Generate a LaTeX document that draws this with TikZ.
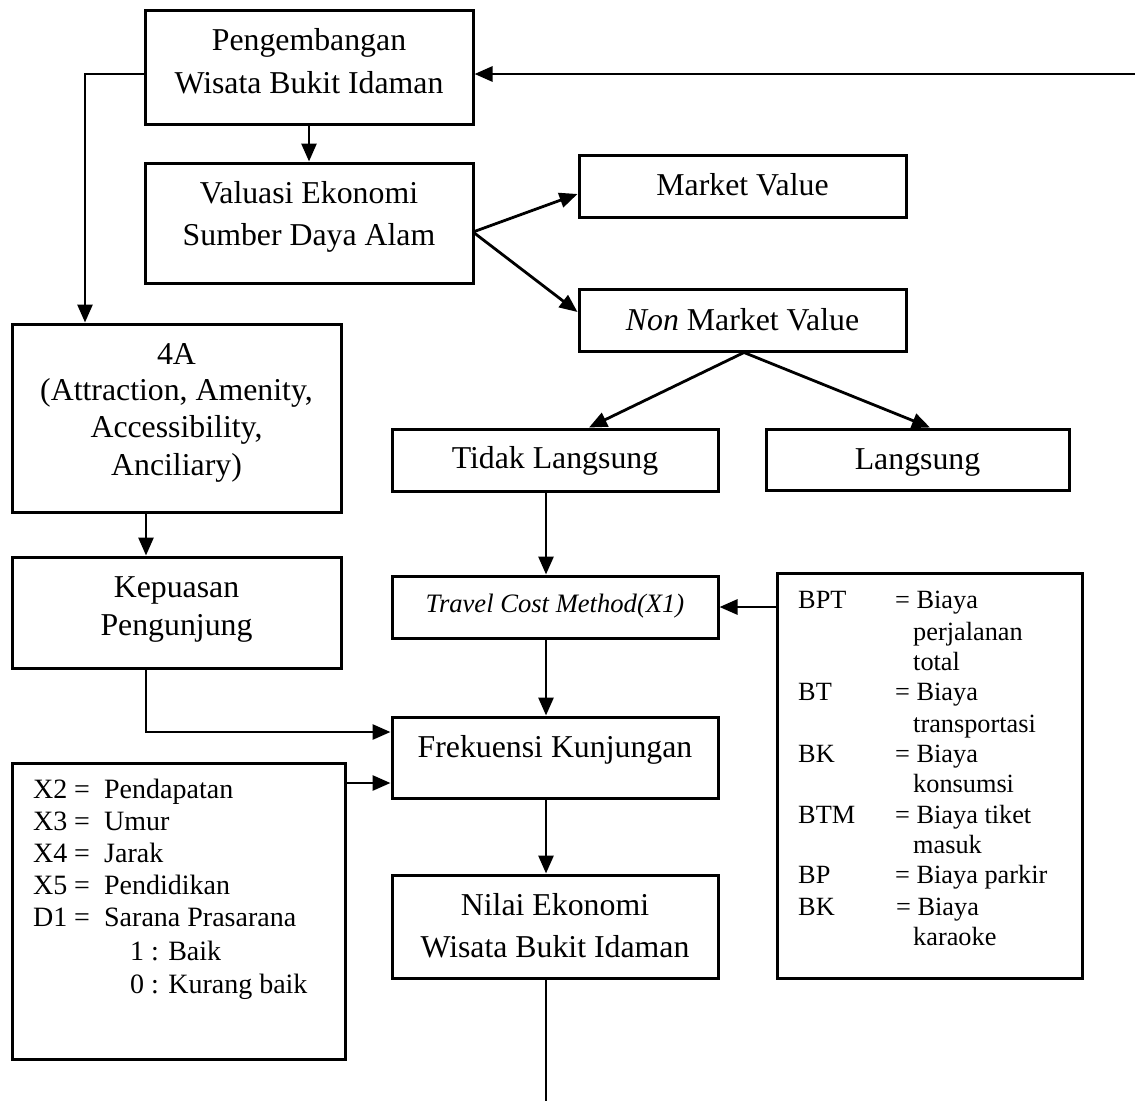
\documentclass[tikz,border=0pt]{standalone}
\usepackage{fontspec}
\setmainfont{Liberation Serif}
\usetikzlibrary{arrows.meta,calc}
\begin{document}
\begin{tikzpicture}[x=1pt,y=-1pt,
  box/.style={draw, line width=3pt, inner sep=0pt},
  arr/.style={line width=2.8pt, -{Triangle[length=18pt,width=15pt]}},
  big/.style={font=\fontsize{31.8}{38}\selectfont, inner sep=0pt, anchor=base},
  ital/.style={font=\fontsize{26.6}{30}\selectfont\itshape, inner sep=0pt, anchor=base},
  mid/.style={font=\fontsize{28}{32}\selectfont, inner sep=0pt, anchor=base west},
  sml/.style={font=\fontsize{26.3}{30}\selectfont, inner sep=0pt, anchor=base west}]
\useasboundingbox (0,0) rectangle (1135,1101);

% boxes
\node[box, minimum width=328pt, minimum height=114pt] (top) at (309,67) {};
\node[box, minimum width=328pt, minimum height=120pt] (val) at (309,223) {};
\node[box, minimum width=327pt, minimum height=62pt] (mv) at (742.5,186) {};
\node[box, minimum width=327pt, minimum height=62pt] (nmv) at (742.5,320) {};
\node[box, minimum width=329pt, minimum height=188pt] (fourA) at (176.5,418) {};
\node[box, minimum width=326pt, minimum height=62pt] (tl) at (555,460) {};
\node[box, minimum width=303pt, minimum height=61pt] (ls) at (917.5,459.5) {};
\node[box, minimum width=329pt, minimum height=111pt] (kep) at (176.5,612.5) {};
\node[box, minimum width=326pt, minimum height=62pt] (tcm) at (555,607) {};
\node[box, minimum width=305pt, minimum height=405pt] (rbox) at (929.5,775.5) {};
\node[box, minimum width=326pt, minimum height=81pt] (frk) at (555,757.5) {};
\node[box, minimum width=333pt, minimum height=296pt] (xbox) at (178.5,911) {};
\node[box, minimum width=326pt, minimum height=103pt] (nil) at (555,926.5) {};

% texts
\node[big] (top1) at (309,50) {Pengembangan};
\node[big] (top2) at (309,93) {Wisata Bukit Idaman};
\node[big] (val1) at (309,203) {Valuasi Ekonomi};
\node[big] (val2) at (309,245) {Sumber Daya Alam};
\node[big] (mvt) at (742.5,195) {Market Value};
\node[big] (nmvt) at (742.5,330) {\textit{Non} Market Value};
\node[big] (fa1) at (176.5,364) {4A};
\node[big] (fa2) at (176.5,400) {(Attraction, Amenity,};
\node[big] (fa3) at (176.5,437) {Accessibility,};
\node[big] (fa4) at (176.5,475) {Anciliary)};
\node[big] (tlt) at (555,468) {Tidak Langsung};
\node[big] (lst) at (917.5,469) {Langsung};
\node[big] (kep1) at (176.5,597) {Kepuasan};
\node[big] (kep2) at (176.5,635) {Pengunjung};
\node[ital] (tcmt) at (555,612) {Travel Cost Method(X1)};
\node[big] (frkt) at (555,757) {Frekuensi Kunjungan};
\node[big] (nil1) at (555,915) {Nilai Ekonomi};
\node[big] (nil2) at (555,957) {Wisata Bukit Idaman};

% X box text
\node[mid] (x2) at (33,798) {\makebox[41pt][l]{X2}\makebox[30pt][l]{=}Pendapatan};
\node[mid] (x3) at (33,830) {\makebox[41pt][l]{X3}\makebox[30pt][l]{=}Umur};
\node[mid] (x4) at (33,862) {\makebox[41pt][l]{X4}\makebox[30pt][l]{=}Jarak};
\node[mid] (x5) at (33,894) {\makebox[41pt][l]{X5}\makebox[30pt][l]{=}Pendidikan};
\node[mid] (d1) at (33,926) {\makebox[41pt][l]{D1}\makebox[30pt][l]{=}Sarana Prasarana};
\node[mid] (d1a) at (130,960) {1 : Baik};
\node[mid] (d1b) at (130,993) {0 : Kurang baik};

% right box text
\node[sml] (r1) at (798,608) {\makebox[97pt][l]{BPT}= Biaya};
\node[sml] (r2) at (913,640) {perjalanan};
\node[sml] (r3) at (913,670) {total};
\node[sml] (r4) at (798,700) {\makebox[97pt][l]{BT}= Biaya};
\node[sml] (r5) at (913,732) {transportasi};
\node[sml] (r6) at (798,762) {\makebox[97pt][l]{BK}= Biaya};
\node[sml] (r7) at (913,792) {konsumsi};
\node[sml] (r8) at (798,823) {\makebox[97pt][l]{BTM}= Biaya tiket};
\node[sml] (r9) at (913,853) {masuk};
\node[sml] (r10) at (798,883) {\makebox[97pt][l]{BP}= Biaya parkir};
\node[sml] (r11) at (798,915) {\makebox[98pt][l]{BK}= Biaya};
\node[sml] (r12) at (913,945) {karaoke};

% connectors
\coordinate (rt) at (1135,74);
\draw[arr] (rt) -- (rt -| top.east);
\draw[arr] (top.west |- 0,74) -| (85,0 |- fourA.north);
\draw[arr] (top.south) -- (val.north);
\coordinate (vE) at (473,232);
\draw[arr] (vE) -- ([yshift=-8pt]mv.west);
\draw[arr] (vE) -- ([yshift=8pt]nmv.west);
\draw[arr] ([xshift=1.5pt]nmv.south) -- ([xshift=34pt]tl.north);
\draw[arr] ([xshift=1.5pt]nmv.south) -- ([xshift=12.5pt]ls.north);
\draw[arr] ([xshift=-30.5pt]fourA.south) -- ([xshift=-30.5pt]kep.north);
\draw[arr] ([xshift=-9pt]tl.south) -- ([xshift=-9pt]tcm.north);
\draw[arr] (rbox.west |- tcm.east) -- (tcm.east);
\draw[arr] ([xshift=-9pt]tcm.south) -- ([xshift=-9pt]frk.north);
\draw[arr] ([xshift=-30.5pt]kep.south) |- ([yshift=25.5pt]frk.west);
\coordinate (fa) at ([yshift=-25.5pt]frk.west);
\draw[arr] (xbox.east |- fa) -- (fa);
\draw[arr] ([xshift=-9pt]frk.south) -- ([xshift=-9pt]nil.north);
\coordinate (bend) at (546,1101);
\draw[line width=1.6pt] ([xshift=-9pt]nil.south) -- (bend);
\end{tikzpicture}
\end{document}
